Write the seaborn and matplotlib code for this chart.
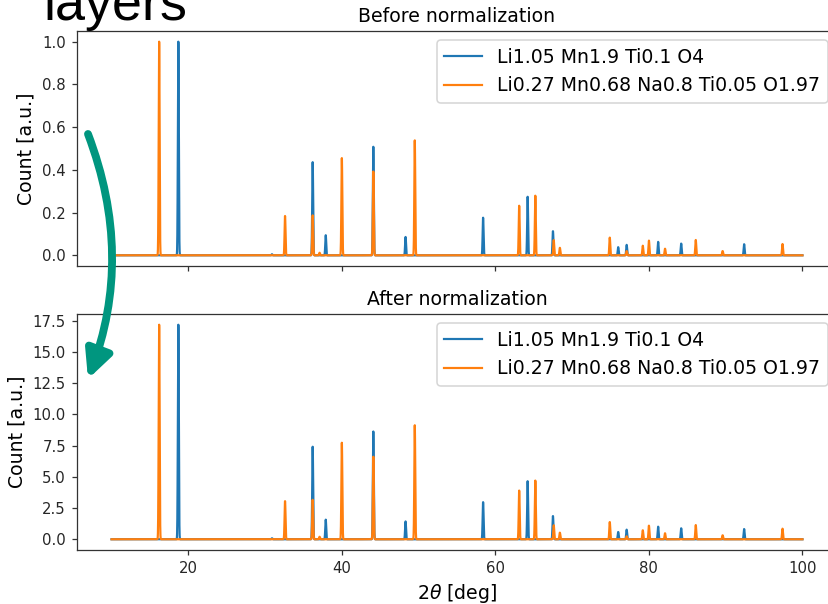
import numpy as np
import pandas as pd
import matplotlib
matplotlib.use("Agg")
import matplotlib.pyplot as plt
from matplotlib.patches import FancyArrowPatch, ArrowStyle
import seaborn as sns

# ---- data ----
series_labels = ["Li1.05 Mn1.9 Ti0.1 O4", "Li0.27 Mn0.68 Na0.8 Ti0.05 O1.97"]
panel_titles = ["Before normalization", "After normalization"]

blue_pos = [18.7, 30.9, 36.2, 37.9, 44.1, 48.3, 58.4, 64.2, 67.5, 76.0, 77.1, 81.2, 84.2, 92.4]
blue_before = [1.0, 0.005, 0.436, 0.094, 0.508, 0.086, 0.176, 0.274, 0.113, 0.038, 0.049, 0.063, 0.055, 0.052]
blue_after = [17.18, 0.08, 7.41, 1.57, 8.63, 1.43, 2.97, 4.65, 1.86, 0.58, 0.77, 1.01, 0.88, 0.82]

orange_pos = [16.2, 32.6, 36.2, 37.1, 40.0, 44.1, 49.5, 63.1, 65.2, 67.6, 68.4, 74.9, 77.1, 79.2,
              80.0, 82.1, 86.1, 89.6, 97.4]
orange_before = [1.0, 0.184, 0.187, 0.012, 0.455, 0.392, 0.538, 0.232, 0.279, 0.071, 0.035, 0.083,
                 0.02, 0.045, 0.069, 0.031, 0.072, 0.02, 0.053]
orange_after = [17.18, 3.05, 3.16, 0.2, 7.73, 6.61, 9.13, 3.90, 4.70, 1.12, 0.53, 1.38, 0.24, 0.72,
                1.09, 0.48, 1.14, 0.32, 0.85]

two_theta_range = (10.0, 100.0)

# ---- build diffraction profiles (narrow peaks on a flat baseline) ----
theta = np.arange(two_theta_range[0], two_theta_range[1] + 1e-9, 0.01)
SIGMA = 0.06


def profile(pos, heights):
    y = np.zeros_like(theta)
    for p, h in zip(pos, heights):
        y += h * np.exp(-0.5 * ((theta - p) / SIGMA) ** 2)
    return y


df_before = pd.DataFrame({"theta": theta,
                          "blue": profile(blue_pos, blue_before),
                          "orange": profile(orange_pos, orange_before)})
df_after = pd.DataFrame({"theta": theta,
                         "blue": profile(blue_pos, blue_after),
                         "orange": profile(orange_pos, orange_after)})

DPI = 113
W, H = 828, 604
fig = plt.figure(figsize=(W / DPI, H / DPI), dpi=DPI)
fig.patch.set_facecolor("white")

left = 77 / W
width = 760 / W
ax1 = fig.add_axes([left, 1 - 266 / H, width, 235 / H])
ax2 = fig.add_axes([left, 1 - 550 / H, width, 236 / H], sharex=ax1)

TICK_FS = 9.5
colors = ["#1f77b4", "#ff7f0e"]
for ax, df, title in [(ax1, df_before, panel_titles[0]), (ax2, df_after, panel_titles[1])]:
    sns.lineplot(data=df, x="theta", y="blue", ax=ax, color=colors[0], label=series_labels[0],
                 estimator=None, sort=False, linewidth=1.4)
    sns.lineplot(data=df, x="theta", y="orange", ax=ax, color=colors[1], label=series_labels[1],
                 estimator=None, sort=False, linewidth=1.4)
    ax.set_title(title, fontsize=12)
    ax.set_ylabel("Count [a.u.]", fontsize=12)
    ax.legend(loc="upper right", fontsize=12)
    ax.tick_params(labelsize=TICK_FS, colors="#333333", labelcolor="#262626")
    for s in ax.spines.values():
        s.set_color("#333333")

ax1.set_xlabel("")
ax1.tick_params(labelbottom=False)
ax2.set_xlabel(r"2$\theta$ [deg]", fontsize=12)
ax2.set_xticks([20, 40, 60, 80, 100])
ax1.set_yticks([0.0, 0.2, 0.4, 0.6, 0.8, 1.0])
ax2.set_yticks([0.0, 2.5, 5.0, 7.5, 10.0, 12.5, 15.0, 17.5])

# slide decoration: cropped heading text and curved teal arrow
fig.text(43 / W, 1 - 20 / H, "layers", fontsize=34.4,
         family=["Liberation Sans", "DejaVu Sans"], va="baseline", ha="left", color="black")

arrow = FancyArrowPatch((88 / W, 1 - 134 / H), (88 / W, 1 - 379 / H),
                        transform=fig.transFigure,
                        connectionstyle="arc3,rad=-0.19",
                        arrowstyle=ArrowStyle("-|>", head_length=0.72, head_width=0.35),
                        mutation_scale=20, linewidth=5.0, color="#00967f", zorder=10,
                        shrinkA=0, shrinkB=0, capstyle="round")
fig.add_artist(arrow)

fig.savefig("out.png", dpi=DPI)
